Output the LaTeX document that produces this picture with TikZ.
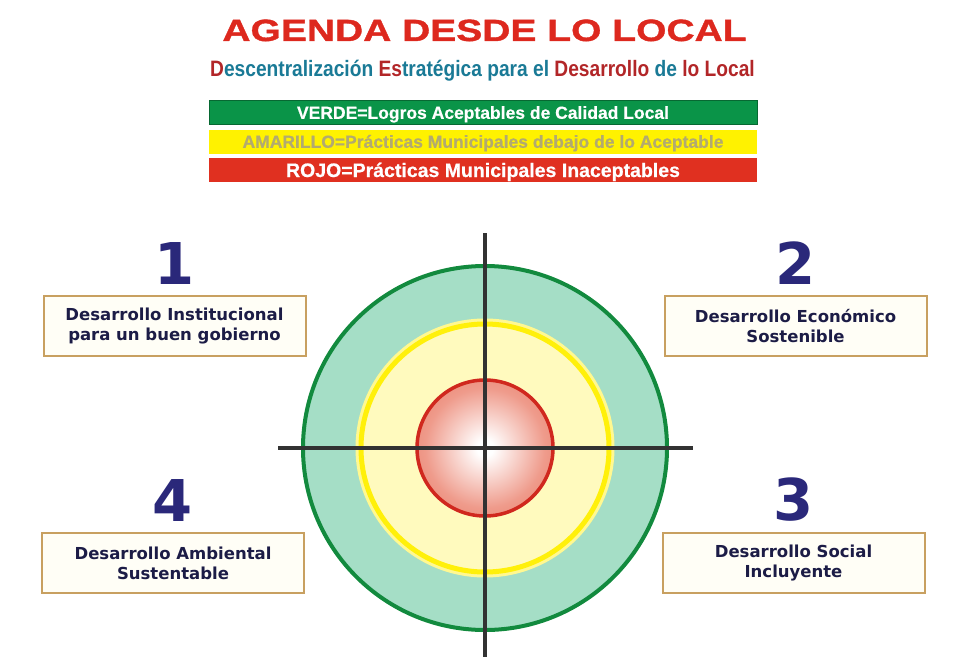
\documentclass[tikz,border=0pt]{standalone}
\usepackage{fontspec}
\setmainfont{DejaVu Sans}
\newfontfamily\titlefont{Liberation Sans}[FakeStretch=1.27, FakeBold=1.2]
\newfontfamily\subfont{Liberation Sans}[FakeStretch=0.86]
\newfontfamily\barfont{Liberation Sans}[FakeBold=0.6]
\usetikzlibrary{positioning}

\definecolor{titlered}{RGB}{221,40,30}
\definecolor{subteal}{RGB}{26,122,150}
\definecolor{subred}{RGB}{178,38,40}
\definecolor{barverde}{RGB}{10,148,72}
\definecolor{baramarillo}{RGB}{255,242,0}
\definecolor{barrojo}{RGB}{224,48,32}
\definecolor{amtext}{RGB}{178,170,112}
\definecolor{navy}{RGB}{42,40,122}
\definecolor{boxtext}{RGB}{28,28,70}
\definecolor{boxedge}{RGB}{200,160,96}
\definecolor{boxfill}{RGB}{255,254,246}
\definecolor{ringgreen}{RGB}{18,138,62}
\definecolor{greenlight}{RGB}{165,222,198}
\definecolor{greendark}{RGB}{112,196,158}
\definecolor{yellowfill}{RGB}{255,250,190}
\definecolor{ringyellow}{RGB}{255,240,10}
\definecolor{ringred}{RGB}{208,40,30}
\definecolor{ballred}{RGB}{228,88,62}
\definecolor{crossgray}{RGB}{50,50,50}

\pgfdeclareradialshading{greenring}{\pgfpoint{0bp}{0bp}}{color(0bp)=(greenlight); color(34bp)=(greenlight); color(50bp)=(greendark)}
\pgfdeclareradialshading{redball}{\pgfpoint{0bp}{0bp}}{color(0bp)=(white); color(3bp)=(white); color(22bp)=(ballred!60); color(50bp)=(ballred)}

\begin{document}
\begin{tikzpicture}[x=1pt, y=-1pt,
    numero/.style={font=\fontsize{57.6}{58}\selectfont\bfseries, text=navy, inner sep=0pt},
    area/.style={draw=boxedge, line width=2pt, fill=boxfill, minimum width=262pt, minimum height=60pt,
        align=center, text=boxtext, font=\fontsize{16.5}{20}\selectfont\bfseries},
    barra/.style={minimum width=548pt, minimum height=24pt, inner sep=0pt, text height=12.6pt, text depth=0pt,
        font=\barfont\fontsize{17.5}{20}\selectfont\bfseries}]
    \useasboundingbox (0,0) rectangle (955,661);

    \node[font=\titlefont\fontsize{30.7}{34}\selectfont\bfseries, text=titlered, anchor=base, inner sep=0pt] (titulo) at (484.5,41) {AGENDA DESDE LO LOCAL};
    \node[font=\subfont\fontsize{22.3}{26}\selectfont\bfseries, text=subteal, anchor=base, inner sep=0pt] (subtitulo) at (482.5,76)
        {\textcolor{subred}{D}escentralización \textcolor{subred}{Es}tratégica para el \textcolor{subred}{Desarrollo} de \textcolor{subred}{lo Local}};

    \node[barra, fill=barverde, draw=barverde!70!black, text=white] (leyendaverde) at (483,112.5) {VERDE=Logros Aceptables de Calidad Local};
    \node[barra, fill=baramarillo, text=amtext] (leyendaamarilla) at (483,141.5) {AMARILLO=Prácticas Municipales debajo de lo Aceptable};
    \node[barra, fill=barrojo, text=white, text height=14pt, font=\barfont\fontsize{19.5}{22}\selectfont\bfseries] (leyendaroja) at (483,170) {ROJO=Prácticas Municipales Inaceptables};

    \node[circle, shade, shading=greenring, draw=ringgreen, line width=4pt, minimum size=364pt] (circverde) at (485,448) {};
    \node[circle, fill=yellowfill, draw=ringyellow, line width=5pt, minimum size=248pt,
        preaction={draw=ringyellow!45, line width=11pt}] (circamarillo) at (circverde) {};
    \node[circle, shade, shading=redball, draw=ringred, line width=3.5pt, minimum size=136pt] (circrojo) at (circverde) {};

    \coordinate (arriba) at (485,233);
    \coordinate (abajo) at (485,657);
    \coordinate (izq) at (278,448);
    \coordinate (der) at (693,448);
    \draw[crossgray, line width=4.5pt] (arriba) -- (abajo);
    \draw[crossgray, line width=4.5pt] (izq) -- (der);

    \node[area] (area1) at (174.5,326) {Desarrollo Institucional\\para un buen gobierno};
    \node[area] (area2) at (795.5,326) {Desarrollo Económico\\Sostenible};
    \node[area] (area3) at (793.5,563) {Desarrollo Social\\Incluyente};
    \node[area] (area4) at (173,563) {Desarrollo Ambiental\\Sustentable};

    \node[numero, above=10pt of area1] (num1) {1};
    \node[numero, above=10pt of area2] (num2) {2};
    \node[numero, above=10pt of area3] (num3) {3};
    \node[numero, above=10pt of area4] (num4) {4};
\end{tikzpicture}
\end{document}
